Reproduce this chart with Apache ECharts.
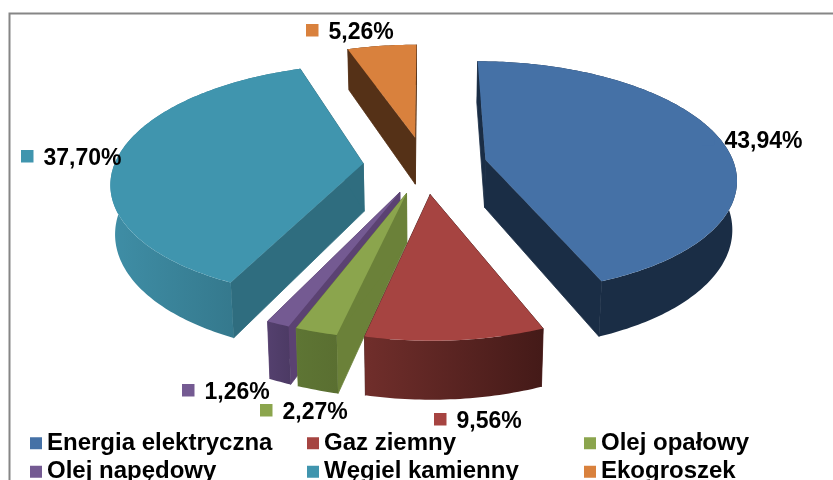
<!DOCTYPE html>
<html><head><meta charset="utf-8">
<style>html,body{margin:0;padding:0;background:#fff;overflow:hidden}#c{width:833px;height:480px}</style>
<script src="https://cdn.jsdelivr.net/npm/echarts@6/dist/echarts.min.js"></script>
</head><body><div id="c"></div>
<script>
const categories = ['Energia elektryczna','Gaz ziemny','Olej opałowy','Olej napędowy','Węgiel kamienny','Ekogroszek'];
const values = [43.94, 9.56, 2.27, 1.26, 37.70, 5.26];
const labels = ['43,94%','9,56%','2,27%','1,26%','37,70%','5,26%'];

const topColors = ['#4571a6','#a64441','#8ba54d','#745a92','#4095ae','#d9813d'];
const wallColors = ['#1a2d45','#4a1c1a','#6b8139','#5b4272','#2f6d7f','#553117'];
const rimFrom = ['#1a2d45','#702e2b','#5e7534','#54406e','#3f8ea6','#553117'];
const rimTo = ['#1a2d45','#441a18','#5a6f31','#4c3a64','#2f6d7f','#553117'];
const labelAnchors = [[702,133],[434,413],[260,404],[182,384],[21,150],[306,24]];
const legendSlots = [[30,429.5],[307,429.5],[584,429.5],[30,458],[307,458],[584,458]];
const drawOrder = [5,0,4,3,2,1];

const CX=425, CY=165, R=249, EXPLODE=62, K=0.46, P=0.0006, PX=0.0006, H=48;
const total = values.reduce((a,b)=>a+b,0);

function project(X,Y,low){
  const s=1/(1+P*Y), sx=1/(1+PX*Y);
  return [CX+X*sx*(low?0.985:1), CY-K*Y*s+(low?H*s:0)];
}
function sliceItem(i){
  return function(params,api){
    const before=values.slice(0,i).reduce((a,b)=>a+b,0);
    const a0=before/total*2*Math.PI, a1=(before+api.value(0))/total*2*Math.PI, mid=(a0+a1)/2;
    const ox=EXPLODE*Math.sin(mid), oy=EXPLODE*Math.cos(mid);
    const arcTop=[],arcLow=[];
    const n=Math.max(6,Math.round((a1-a0)*60));
    for(let j=0;j<=n;j++){
      const t=a0+(a1-a0)*j/n, X=ox+R*Math.sin(t), Y=oy+R*Math.cos(t);
      arcTop.push(project(X,Y,false)); arcLow.push(project(X,Y,true));
    }
    const apexT=project(ox,oy,false), apexL=project(ox,oy,true);
    const poly=(points,fill,stroke)=>({type:'polygon',shape:{points},style:{fill,stroke:stroke||null,lineWidth:stroke?0.8:0}});
    const children=[
      poly([apexT,arcTop[0],arcLow[0],apexL],wallColors[i],wallColors[i]),
      poly([apexT,arcTop[n],arcLow[n],apexL],wallColors[i],wallColors[i]),
      poly(arcTop.concat(arcLow.slice().reverse()),{type:'linear',x:0,y:0,x2:1,y2:0,colorStops:[{offset:0,color:rimFrom[i]},{offset:1,color:rimTo[i]}]}),
      poly([apexT].concat(arcTop),topColors[i]),
      {type:'rect',shape:{x:labelAnchors[i][0],y:labelAnchors[i][1],width:12.5,height:12.5},style:{fill:topColors[i]}},
      {type:'text',x:labelAnchors[i][0]+22.5,y:labelAnchors[i][1]+8.5,style:{text:labels[i],fill:'#000',font:'bold 23px "Liberation Sans"',textVerticalAlign:'middle',textAlign:'left'}}
    ];
    return {type:'group',children};
  };
}
const legendBase={orient:'horizontal',icon:'rect',itemWidth:12,itemHeight:12,padding:0,selectedMode:false,
  textStyle:{color:'#000',fontFamily:'Liberation Sans',fontWeight:'bold',fontSize:24,lineHeight:27.5}};
const chart=echarts.init(document.getElementById('c'),null,{renderer:'canvas'});
chart.setOption({
  animation:false,
  backgroundColor:'#fff',
  graphic:[{type:'polyline',shape:{points:[[9.5,490],[9.5,13.5],[840,13.5]]},style:{stroke:'#868686',lineWidth:2,fill:null},silent:true}],
  legend:categories.map((name,i)=>Object.assign({},legendBase,{left:legendSlots[i][0],top:legendSlots[i][1],data:[name]})),
  series:drawOrder.map(i=>({
    type:'custom',name:categories[i],coordinateSystem:'none',silent:true,
    itemStyle:{color:topColors[i]},
    data:[values[i]],
    renderItem:sliceItem(i)
  }))
});
</script></body></html>
